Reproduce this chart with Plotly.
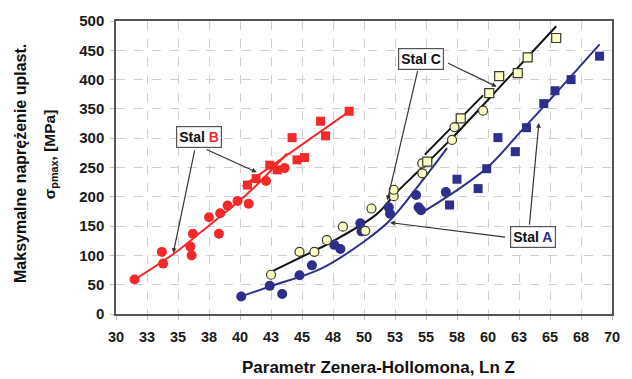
import plotly.graph_objects as go

# ---------------- data ----------------
# Stal B (red)
b_circ_x = [31.5, 33.7, 33.8, 36.0, 36.1, 36.2, 37.5, 38.3, 38.4, 39.0, 39.8, 40.7, 42.1, 43.6]
b_circ_y = [59, 106, 86, 115, 100, 137, 165, 137, 172, 185, 193, 188, 227, 249]
b_sq_x = [40.6, 41.3, 42.4, 43.0, 44.2, 44.6, 45.2, 46.5, 46.9, 48.8]
b_sq_y = [220, 231, 254, 246, 301, 263, 267, 329, 304, 346]
b_fit1_x = [31.3, 34.6, 36.8, 40.0, 41.1, 43.8]
b_fit1_y = [56, 102, 139, 194, 215, 274]
b_fit2_x = [40.2, 48.9]
b_fit2_y = [218, 347]

# Stal A (navy)
a_circ_x = [40.1, 42.4, 43.4, 44.8, 45.8, 47.6, 48.1, 49.7, 49.8, 52.0, 52.1, 54.2, 54.4, 54.6, 56.6]
a_circ_y = [30, 48, 34, 66, 83, 118, 111, 155, 141, 182, 171, 203, 182, 177, 208]
a_sq_x = [56.9, 57.5, 59.2, 59.9, 60.8, 62.2, 63.1, 64.5, 65.4, 66.7, 69.0]
a_sq_y = [186, 230, 214, 248, 301, 277, 318, 359, 381, 400, 440]
a_fit1_x = [40.1, 42.4, 46.5, 49.9, 52.1, 54.5, 56.7]
a_fit1_y = [30, 47, 77, 122, 160, 222, 283]
a_fit2_x = [54.6, 57.2, 59.9, 62.8, 65.4, 69.0]
a_fit2_y = [172, 207, 249, 315, 375, 460]

# Stal C (light yellow)
c_circ_x = [42.5, 44.8, 46.0, 47.0, 48.3, 50.1, 50.6, 52.4, 52.4, 54.7, 54.7, 57.1, 57.3, 59.6]
c_circ_y = [67, 106, 106, 126, 149, 142, 180, 201, 212, 240, 257, 297, 319, 347]
c_sq_x = [55.1, 57.8, 60.1, 60.9, 62.4, 63.2, 65.5]
c_sq_y = [260, 334, 377, 406, 411, 438, 471]
c_fit1_x = [42.5, 45.6, 47.3, 51.0, 52.6, 54.5, 57.0, 61.6, 65.5]
c_fit1_y = [72, 104, 122, 170, 207, 246, 298, 402, 491]
c_fit2_x = [54.9, 59.6]
c_fit2_y = [272, 373]

x_tickvals = [30 + 2.5 * i for i in range(17)]
x_ticktext = ["30", "33", "35", "38", "40", "43", "45", "48", "50",
              "53", "55", "58", "60", "63", "65", "68", "70"]
y_tickvals = [0, 50, 100, 150, 200, 250, 300, 350, 400, 450, 500]

# ---------------- style ----------------
RED = "#F42A2A"
NAVY = "#2E2F8C"
CFILL = "#FFFFC8"
FONT = "Arial, Liberation Sans, sans-serif"

fig = go.Figure()

def line(x, y, color, width=2):
    fig.add_trace(go.Scatter(x=x, y=y, mode="lines", line=dict(color=color, width=width, shape="spline"),
                             hoverinfo="skip", showlegend=False))

def pts(x, y, symbol, fill, edge, size, ew=0):
    fig.add_trace(go.Scatter(x=x, y=y, mode="markers",
                             marker=dict(symbol=symbol, color=fill, size=size,
                                         line=dict(color=edge, width=ew)),
                             showlegend=False))

# lines
line(b_fit1_x, b_fit1_y, RED)
line(b_fit2_x, b_fit2_y, RED)
line(a_fit1_x, a_fit1_y, NAVY)
line(a_fit2_x, a_fit2_y, NAVY)
line(c_fit1_x, c_fit1_y, "#111111")
line(c_fit2_x, c_fit2_y, "#111111")

# markers
pts(b_circ_x, b_circ_y, "circle", RED, RED, 10)
pts(b_sq_x, b_sq_y, "square", RED, RED, 9)
pts(a_circ_x, a_circ_y, "circle", NAVY, NAVY, 10)
pts(a_sq_x, a_sq_y, "square", NAVY, NAVY, 9)
pts(c_circ_x, c_circ_y, "circle", CFILL, "#3a3a2a", 9, 1.2)
pts(c_sq_x, c_sq_y, "square", CFILL, "#3a3a2a", 9, 1.2)

# labels with connector arrows
labels = [
    ("Stal <span style='color:#F42A2A'>B</span>", 36.7, 302,
     [(36.37, 282, 34.62, 104), (37.18, 282, 41.35, 242)]),
    ("Stal C", 54.6, 436,
     [(54.35, 417, 51.88, 194), (56.67, 429, 60.70, 388)]),
    ("Stal <span style='color:#2E2F8C'>A</span>", 63.6, 132,
     [(61.5, 131, 52.1, 156), (63.33, 150, 64.1, 326)]),
]
for txt, lx, ly, arrows in labels:
    for ax_, ay_, x_, y_ in arrows:
        fig.add_annotation(x=x_, y=y_, ax=ax_, ay=ay_, xref="x", yref="y", axref="x", ayref="y",
                           text="", showarrow=True, arrowhead=2, arrowsize=0.8,
                           arrowwidth=1.2, arrowcolor="#333333")
    fig.add_annotation(x=lx, y=ly, xref="x", yref="y", text="<b>" + txt + "</b>", showarrow=False,
                       font=dict(family=FONT, size=14, color="#111111"),
                       bgcolor="white", bordercolor="#555555", borderwidth=1.2, borderpad=2)

# axis titles
fig.add_annotation(x=-0.193, y=0.513, xref="paper", yref="paper", textangle=-90, showarrow=False,
                   xanchor="center", yanchor="middle",
                   text="<b>Maksymalne naprężenie uplast.</b>",
                   font=dict(family=FONT, size=16, color="#111111"))
fig.add_annotation(x=-0.133, y=0.545, xref="paper", yref="paper", textangle=-90, showarrow=False,
                   xanchor="center", yanchor="middle",
                   text="<b>σ<sub>pmax</sub>, [MPa]</b>",
                   font=dict(family=FONT, size=15.5, color="#111111"))
fig.add_annotation(x=0.530, y=-0.1824, xref="paper", yref="paper", showarrow=False,
                   xanchor="center", yanchor="middle",
                   text="<b>Parametr Zenera-Hollomona, Ln Z</b>",
                   font=dict(family=FONT, size=17, color="#111111"))

axis_common = dict(showline=True, linecolor="#555555", linewidth=1.5, mirror=True,
                   showgrid=True, gridcolor="#cfcfcf", griddash="dash", gridwidth=1,
                   zeroline=False, ticks="outside", ticklen=4, tickcolor="#bbbbbb")

fig.update_xaxes(range=[30, 70], tickvals=x_tickvals, ticktext=x_ticktext, ticklabelstandoff=5,
                 tickfont=dict(family=FONT, size=14.5, color="#1a1a1a", weight="bold"), **axis_common)
fig.update_yaxes(range=[0, 500], tickvals=y_tickvals, ticklabelstandoff=3,
                 tickfont=dict(family=FONT, size=15, color="#1a1a1a", weight="bold"), **axis_common)

fig.update_layout(width=632, height=379, margin=dict(l=116, r=20, t=18, b=65),
                  paper_bgcolor="white", plot_bgcolor="white", showlegend=False)

fig.write_html("out.html")
